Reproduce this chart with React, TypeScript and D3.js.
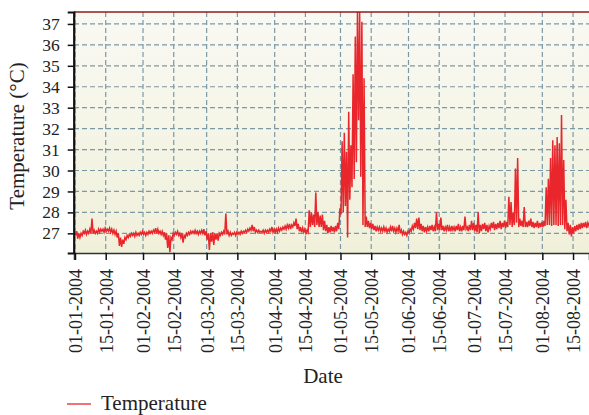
import React, {useEffect, useRef} from "react";
import * as d3 from "d3";

const WIDTH = 589;
const HEIGHT = 415;
const LEFT = 74;
const RIGHT = 589;
const TOP = 12;
const BOTTOM = 253;
const DAY_MS = 864e5;
const START = Date.UTC(2004, 0, 1);
const FONT = "'Liberation Serif', 'DejaVu Serif', serif";

// tick labels on the date axis
const tickDates = [
    "2004-01-01", "2004-01-15", "2004-02-01", "2004-02-15",
    "2004-03-01", "2004-03-15", "2004-04-01", "2004-04-15",
    "2004-05-01", "2004-05-15", "2004-06-01", "2004-06-15",
    "2004-07-01", "2004-07-15", "2004-08-01", "2004-08-15",
];
const yTicks = [27, 28, 29, 30, 31, 32, 33, 34, 35, 36, 37];

// daily low / high temperature (°C), one entry per day from 01-01-2004
const janLow = [26.9, 26.75, 26.8, 26.9, 27.0, 26.95, 27.0, 27.0, 27.0, 27.0, 27.0, 27.05, 27.1, 27.05, 27.1, 27.1, 27.05, 27.0, 26.95, 26.8, 26.4, 26.35, 26.5, 26.7, 26.8, 26.85, 26.9, 26.85, 26.9, 26.9, 26.95];
const janHigh = [27.1, 27.0, 27.0, 27.1, 27.15, 27.1, 27.2, 27.7, 27.15, 27.1, 27.2, 27.2, 27.2, 27.25, 27.2, 27.25, 27.2, 27.15, 27.1, 27.0, 26.8, 26.7, 26.8, 26.9, 26.95, 27.0, 27.0, 27.05, 27.0, 27.05, 27.1];
const febLow = [26.95, 26.9, 26.95, 27.0, 27.0, 27.05, 27.0, 27.0, 26.95, 26.9, 26.7, 26.3, 26.1, 26.7, 26.9, 26.95, 26.9, 26.8, 26.55, 26.8, 26.9, 26.95, 27.0, 27.0, 27.0, 26.95, 27.0, 27.0, 26.9];
const febHigh = [27.05, 27.05, 27.1, 27.1, 27.15, 27.25, 27.2, 27.1, 27.1, 27.05, 27.0, 26.9, 26.8, 27.0, 27.05, 27.1, 27.0, 27.0, 26.9, 27.0, 27.05, 27.1, 27.1, 27.15, 27.1, 27.1, 27.15, 27.2, 27.1];
const marLow = [26.7, 26.2, 26.6, 26.45, 26.7, 26.65, 26.9, 26.95, 26.95, 26.95, 26.9, 26.9, 26.95, 26.9, 26.95, 26.95, 27.0, 27.05, 27.05, 27.1, 27.15, 27.1, 27.05, 27.05, 27.05, 27.05, 27.0, 27.05, 27.05, 27.1, 27.05];
const marHigh = [27.0, 27.0, 27.05, 27.0, 27.0, 27.0, 27.05, 27.1, 27.95, 27.1, 27.05, 27.0, 27.05, 27.05, 27.05, 27.1, 27.1, 27.15, 27.2, 27.25, 27.4, 27.3, 27.15, 27.15, 27.1, 27.15, 27.15, 27.15, 27.2, 27.3, 27.2];
const aprLow = [27.05, 27.05, 27.1, 27.15, 27.2, 27.2, 27.25, 27.2, 27.3, 27.35, 27.2, 27.1, 27.05, 27.05, 27.0, 27.05, 27.3, 27.4, 27.3, 27.4, 27.3, 27.3, 27.15, 27.1, 27.0, 27.05, 27.1, 27.05, 27.1, 27.2];
const aprHigh = [27.2, 27.25, 27.25, 27.3, 27.35, 27.4, 27.45, 27.4, 27.5, 27.7, 27.45, 27.3, 27.25, 27.2, 27.15, 28.1, 28.0, 27.9, 28.95, 28.0, 27.85, 27.9, 27.6, 27.4, 27.3, 27.35, 27.3, 27.35, 27.5, 28.2];
const mayLow = [27.9, 28.0, 28.3, 26.8, 28.6, 29.2, 29.6, 30.4, 32.4, 29.7, 27.4, 27.3, 27.3, 27.25, 27.2, 27.15, 27.1, 27.15, 27.1, 27.1, 27.1, 27.05, 27.1, 27.1, 27.1, 27.05, 27.1, 27.0, 26.95, 26.95, 26.9];
const mayHigh = [31.4, 31.8, 30.9, 32.8, 31.2, 34.6, 36.4, 37.7, 37.6, 37.1, 34.4, 27.8, 27.6, 27.5, 27.45, 27.35, 27.3, 27.3, 27.25, 27.3, 27.25, 27.2, 27.3, 27.35, 27.25, 27.25, 27.4, 27.15, 27.1, 27.05, 27.1];
const junLow = [27.0, 27.1, 27.2, 27.25, 27.2, 27.15, 27.1, 27.05, 27.1, 27.1, 27.15, 27.1, 27.1, 27.15, 27.15, 27.15, 27.1, 27.15, 27.1, 27.1, 27.15, 27.1, 27.15, 27.1, 27.1, 27.15, 27.2, 27.1, 27.15, 27.15];
const junHigh = [27.2, 27.35, 27.5, 27.7, 27.75, 27.45, 27.35, 27.3, 27.3, 27.35, 27.4, 27.3, 28.0, 27.45, 27.75, 27.35, 27.3, 27.4, 27.3, 27.35, 27.3, 27.35, 27.45, 27.3, 27.35, 27.8, 27.3, 27.4, 27.6, 27.5];
const julLow = [27.1, 27.05, 27.0, 27.1, 27.2, 27.1, 27.05, 27.2, 27.25, 27.15, 27.2, 27.25, 27.2, 27.3, 27.25, 27.3, 27.4, 27.3, 27.4, 27.5, 27.3, 27.35, 27.3, 27.3, 27.3, 27.35, 27.3, 27.25, 27.3, 27.25, 27.3];
const julHigh = [27.4, 28.0, 27.4, 27.45, 27.5, 27.4, 27.35, 27.5, 27.55, 27.45, 27.5, 27.6, 27.5, 27.6, 27.55, 28.75, 28.5, 28.0, 30.1, 30.6, 27.7, 27.6, 28.25, 27.55, 27.6, 27.7, 27.55, 27.5, 27.6, 27.5, 27.55];
const augLow = [27.3, 27.35, 27.4, 27.4, 27.35, 27.4, 27.4, 27.35, 27.4, 27.4, 27.2, 27.1, 26.95, 26.85, 27.0, 27.1, 27.15, 27.2, 27.25, 27.3, 27.25, 27.35];
const augHigh = [27.6, 29.2, 29.6, 30.6, 31.45, 31.2, 31.6, 31.3, 32.65, 30.5, 28.6, 27.5, 27.4, 27.3, 27.35, 27.4, 27.45, 27.5, 27.5, 27.55, 27.5, 27.55];

const lowTemps = [...janLow, ...febLow, ...marLow, ...aprLow, ...mayLow, ...junLow, ...julLow, ...augLow];
const highTemps = [...janHigh, ...febHigh, ...marHigh, ...aprHigh, ...mayHigh, ...junHigh, ...julHigh, ...augHigh];

export default function App() {
    const d3Container = useRef(null);

    useEffect(() => {
        const svg = d3.select(d3Container.current);
        svg.selectAll("*").remove();

        const xScale = d3.scaleUtc()
            .domain([new Date(START - 0.456 * DAY_MS), new Date(START + 234.27 * DAY_MS)])
            .range([LEFT, RIGHT]);
        const yScale = d3.scaleLinear()
            .domain([26.06, 37.57])
            .range([BOTTOM, TOP]);

        // low then high for every day, so the line zigzags like the raw readings
        const points: [Date, number][] = [];
        lowTemps.forEach((lo, i) => {
            points.push([new Date(START + (i + 0.25) * DAY_MS), lo]);
            points.push([new Date(START + (i + 0.75) * DAY_MS), highTemps[i]]);
        });
        const ticks = tickDates.map(s => new Date(s + "T00:00:00Z"));

        const defs = svg.append("defs");
        const grad = defs.append("linearGradient")
            .attr("id", "bg").attr("x1", 0).attr("y1", 0).attr("x2", 0).attr("y2", 1);
        grad.append("stop").attr("offset", "0%").attr("stop-color", "#f9f9f4");
        grad.append("stop").attr("offset", "100%").attr("stop-color", "#f0f0da");
        defs.append("clipPath").attr("id", "plot")
            .append("rect").attr("x", LEFT).attr("y", TOP)
            .attr("width", RIGHT - LEFT).attr("height", BOTTOM - TOP);

        svg.append("rect")
            .attr("x", LEFT).attr("y", TOP)
            .attr("width", RIGHT - LEFT).attr("height", BOTTOM - TOP)
            .attr("fill", "url(#bg)");

        const gridG = svg.append("g")
            .attr("stroke", "#7d98a5")
            .attr("stroke-width", 1.2)
            .attr("stroke-dasharray", "5,3");
        gridG.selectAll("line.h")
            .data(yTicks)
            .enter()
            .append("line")
            .attr("class", "h")
            .attr("x1", LEFT).attr("x2", RIGHT)
            .attr("y1", d => yScale(d)).attr("y2", d => yScale(d));
        gridG.selectAll("line.v")
            .data(ticks)
            .enter()
            .append("line")
            .attr("class", "v")
            .attr("y1", TOP).attr("y2", BOTTOM)
            .attr("x1", d => xScale(d)).attr("x2", d => xScale(d));

        const line = d3.line<[Date, number]>()
            .x(d => xScale(d[0]))
            .y(d => yScale(d[1]));
        svg.append("path")
            .datum(points)
            .attr("clip-path", "url(#plot)")
            .attr("fill", "none")
            .attr("stroke", "#e8262b")
            .attr("stroke-width", 1.5)
            .attr("stroke-linejoin", "miter")
            .attr("d", line);

        // top frame line
        svg.append("line")
            .attr("x1", LEFT).attr("x2", RIGHT).attr("y1", TOP).attr("y2", TOP)
            .attr("stroke", "#8b1c1c").attr("stroke-width", 1.5);

        const xAxisG = svg.append("g")
            .attr("transform", "translate(0," + BOTTOM + ")")
            .call(d3.axisBottom(xScale).tickValues(ticks).tickSize(7)
                .tickFormat(d => d3.utcFormat("%d-%m-%Y")(d as Date)));
        xAxisG.select(".domain").attr("stroke", "#333").attr("stroke-width", 1.5);
        xAxisG.selectAll(".tick line").attr("stroke", "#111").attr("stroke-width", 1.5);
        xAxisG.selectAll(".tick text")
            .attr("transform", "rotate(-90)")
            .attr("text-anchor", "end")
            .attr("x", -16)
            .attr("y", 6.5)
            .attr("dy", 0)
            .attr("fill", "#222")
            .style("font-family", FONT)
            .style("font-size", "18px");

        const yAxisG = svg.append("g")
            .attr("transform", "translate(" + (LEFT - 0.3) + ",0)")
            .call(d3.axisLeft(yScale).tickValues(yTicks).tickSize(6).tickPadding(8));
        yAxisG.select(".domain").attr("stroke", "#111").attr("stroke-width", 2.2);
        yAxisG.selectAll(".tick line").attr("stroke", "#111").attr("stroke-width", 1.5);
        yAxisG.selectAll(".tick text")
            .attr("fill", "#222")
            .style("font-family", FONT)
            .style("font-size", "17.5px");

        svg.append("text")
            .attr("transform", "translate(24,136) rotate(-90)")
            .attr("text-anchor", "middle")
            .attr("fill", "#222")
            .style("font-family", FONT)
            .style("font-size", "21px")
            .text("Temperature (°C)");

        svg.append("text")
            .attr("x", 323).attr("y", 383)
            .attr("text-anchor", "middle")
            .attr("fill", "#222")
            .style("font-family", FONT)
            .style("font-size", "21px")
            .text("Date");

        svg.append("line")
            .attr("x1", 67).attr("x2", 91).attr("y1", 404).attr("y2", 404)
            .attr("stroke", "#e8262b").attr("stroke-width", 1.3);
        svg.append("text")
            .attr("x", 101).attr("y", 410)
            .attr("fill", "#222")
            .style("font-family", FONT)
            .style("font-size", "21px")
            .text("Temperature");
    }, []);

    return (
        <svg ref={d3Container} width={WIDTH} height={HEIGHT}
             style={{position: "absolute", left: 0, top: 0, background: "#fff"}}/>
    );
}
